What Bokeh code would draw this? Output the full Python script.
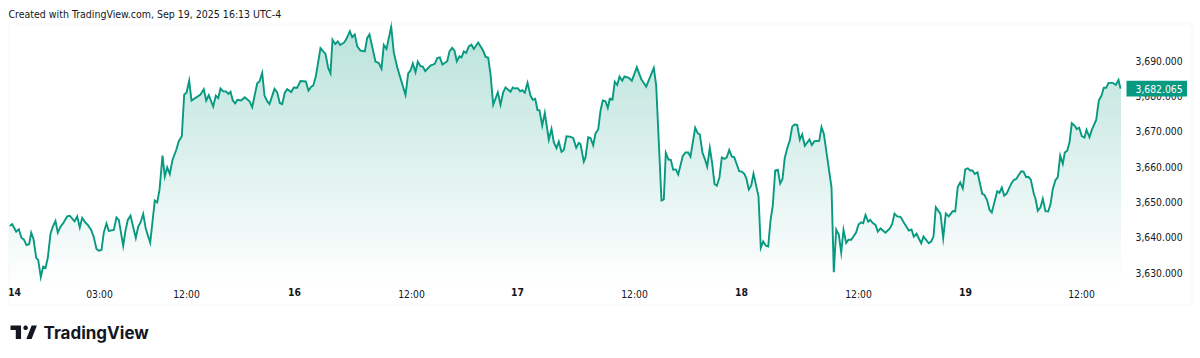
import numpy as np
from bokeh.plotting import figure
from bokeh.embed import file_html
from bokeh.resources import INLINE
from bokeh.models import (Range1d, FixedTicker, NumeralTickFormatter, LinearAxis, Label,
                          BoxAnnotation, PolyAnnotation)

# position along TradingView's session-compressed time axis, and price, one pair of lists per stretch
pos_a = [9,11.7,15.7,18.3,21,23.3,26,28.7,30.7,33,35.7,37.7,40.3,42.7,45,47.3,50,52.3,55,57.3,60,62.7,66.7,69.3,74,76.7,79.3,81.7,85,87.3,90.7,93.3,96,98.3,101,103.3,106,108.3,113.3,116,118.3,122.7,125,127.3,130,135.3,137.7,140,142.7,145.3,149.7,154.3,156.7,159,162,164.3,166.7,169.3,172]
price_a = [3643.2,3643.7,3641.6,3642.3,3639.8,3639.4,3637.8,3638.1,3641.3,3639.5,3634.2,3633.6,3628.7,3631.7,3631.3,3634.2,3641.0,3643.0,3644.6,3641.3,3643.0,3644.0,3645.9,3646.1,3644.5,3645.9,3642.8,3645.5,3644.1,3643.5,3642.1,3640.0,3636.7,3636.2,3636.4,3641.4,3643.9,3641.8,3642.1,3645.6,3644.9,3637.6,3641.9,3644.9,3646.1,3639.8,3643.0,3644.2,3646.6,3642.4,3638.5,3650.4,3649.9,3653.4,3663.1,3657.2,3659.8,3657.9,3661.9]

pos_b = [175.7,178.3,181.3,183.7,186,188.7,191,200,203.3,205.7,208.3,212.7,215.3,217.7,220,222.7,225.3,228,230,232.3,234.7,237,240.7,244.3,249,251.7,256.7,259,261.7,264,266.7,269,274,276.7,279.3,281.7,284.3,286.7,290.7,293.3,296.7]
price_b = [3664.7,3667.2,3668.6,3680.4,3680.9,3684.3,3678.7,3680.4,3681.9,3678.7,3680.2,3677.0,3680.1,3679.4,3682.1,3681.3,3681.3,3680.6,3681.2,3678.7,3677.9,3678.9,3678.7,3679.6,3678.5,3676.8,3683.6,3684.1,3686.5,3680.1,3678.5,3677.7,3682.0,3681.0,3678.0,3677.7,3680.9,3681.9,3681.1,3682.4,3682.3]

pos_c = [300,305.3,308,310.7,312.7,315.3,320,325,327.7,330,332,334.7,337.3,339.7,344,346.7,349.3,351.7,354.3,356.7,360,364.3,366.7,369,375,378.3,381,383.3,386,390.7,393.3,396.7,405,407.7,410,412.3,415,417.3,420,422.3,424.7,430,434.3,436.7,439.3,442,446.7,449,451.7,454,456.3,459,461,463.3,465.7,468.3,471,473.3,477.7,482.7,485,487.7,490,492.7,497.3,500,502.7,505,510,512.3,514.3,517.3,519.7,521.7,524.3,527,530,532.3,534.7,537,539,541.7,544.3,548.3,551,553.3,556,558.3,561,563.3,566,569.3,572.7,575.7,578.3,580,583.3,585,587.7,590,592.7,595,597.7,600]
price_c = [3684.2,3684.1,3681.5,3682.6,3682.9,3685.5,3693.5,3691.9,3687.9,3686.4,3695.9,3694.7,3695.4,3694.4,3695.2,3696.6,3698.3,3696.6,3697.4,3694.0,3692.8,3692.6,3696.4,3697.4,3689.7,3689.3,3687.7,3694.4,3693.3,3699.6,3692.3,3688.1,3680.3,3686.4,3687.2,3689.2,3686.7,3689.7,3688.4,3688.3,3687.0,3688.6,3689.1,3690.7,3690.9,3688.9,3689.8,3692.6,3693.6,3692.8,3689.8,3691.2,3690.9,3692.6,3692.2,3694.0,3694.5,3693.3,3695.1,3692.8,3691.1,3690.8,3686.2,3677.5,3681.0,3677.5,3681.0,3682.4,3681.2,3682.4,3682.1,3682.2,3681.3,3681.6,3680.9,3683.7,3680.1,3678.9,3679.2,3676.0,3675.9,3671.6,3675.2,3667.6,3670.7,3666.9,3665.2,3667.1,3664.2,3664.7,3668.6,3668.5,3668.1,3665.3,3666.7,3666.4,3661.4,3662.6,3668.3,3668.1,3666.0,3669.4,3670.5,3675.8]

pos_d = [602.3,605,607.3,609.3,612,614.3,616.7,619,621.7,624,628.3,631.3,636.3,640.7,645.7,653.3,655.7,661,663.3,665.3,668,670.3,672.7,675.3,677.7,682.3,685,687.7,690,694.7,697.3,699.3,702,704.3,706.7,709.3,711.7,714,716.3,719,721.3,724,726.3,728.7,731.3,733.7,738.7,741.3,744,746,748.3,750.7,753,758,760.3,762.7,765.3,767.7,770,772.3,774.7,777.3,779.7,782,784.3,787,789.3,791.7,794,796.7,799.3,801.7,804.3,809,811.3,814,818.7,821,823.3,831,833.3,835.7,838.3,840.7,843,845.7,848,850.7,855.7,858,860.7,862.7,865,867.7,869.7,872.3,875,877.3,880,885,889.3,891.7,894,896.7]
price_d = [3678.7,3678.5,3676.6,3679.2,3679.0,3684.0,3683.1,3685.5,3684.3,3685.5,3685.1,3684.3,3688.1,3684.8,3682.6,3687.9,3682.9,3650.4,3650.7,3663.9,3662.0,3661.9,3659.1,3659.2,3657.8,3663.0,3664.0,3664.0,3662.8,3671.0,3669.4,3669.1,3663.9,3662.2,3660.0,3665.3,3660.9,3655.1,3654.6,3657.0,3662.6,3662.2,3662.6,3664.7,3662.8,3662.7,3658.7,3658.6,3657.9,3656.5,3653.5,3654.6,3658.0,3651.6,3637.0,3638.8,3637.6,3637.4,3644.7,3649.0,3658.9,3659.1,3655.2,3656.5,3662.5,3665.5,3667.4,3671.3,3671.9,3671.8,3667.6,3669.1,3665.9,3667.7,3666.1,3667.2,3667.3,3671.2,3669.3,3654.1,3630.1,3642.2,3640.8,3635.7,3642.1,3638.4,3639.3,3639.3,3641.4,3643.6,3644.2,3644.0,3646.3,3644.4,3644.9,3644.0,3643.5,3641.6,3642.5,3641.3,3642.5,3643.8,3646.7,3645.9]

pos_e = [900,903.3,908.3,911,913.3,916,920.7,923,928.3,930.7,933,935.3,940,942.7,945.3,948.3,952.3,954.7,957.3,959.7,962.3,964.7,967.3,969.7,972,974.3,977,981.7,984,986.7,989,991.3,996.7,999,1001.3,1003.7,1006,1011,1013.3,1015.7,1020.7,1023,1025.7,1028,1030.3,1033.3,1035,1037.3,1040,1042.3,1045,1047.7,1050,1052.3,1055,1057.3,1059.7,1062.3,1064.3,1066.7,1069,1071.3,1074,1076.3,1078.7,1081.3,1084,1086,1089,1091.3,1095.7,1098.3,1101,1103.3,1105.7,1108,1112.3,1115.3,1118,1120]
price_e = [3645.8,3644.2,3641.9,3642.2,3640.2,3641.0,3638.3,3640.2,3638.3,3638.8,3640.2,3648.5,3646.6,3639.8,3646.7,3645.9,3647.4,3647.3,3654.3,3655.5,3653.8,3659.2,3659.5,3658.9,3658.9,3657.9,3658.4,3652.3,3652.0,3650.4,3647.8,3647.0,3653.0,3652.6,3654.1,3651.8,3652.3,3655.3,3656.2,3656.5,3658.7,3658.6,3657.0,3657.1,3656.3,3652.3,3650.9,3647.5,3648.5,3650.9,3647.4,3647.3,3649.4,3653.7,3656.2,3657.0,3663.1,3660.8,3664.0,3664.5,3666.9,3672.3,3671.6,3670.6,3671.0,3668.6,3668.2,3670.4,3668.3,3670.4,3673.2,3678.7,3680.1,3682.3,3682.3,3683.7,3683.7,3683.1,3684.5,3682.065]

price_ticks = [3630, 3640, 3650, 3660, 3670, 3680, 3690]
hour_ticks = [99, 186, 411, 634, 858, 1081]
hour_labels = ["03:00", "12:00", "12:00", "12:00", "12:00", "12:00"]
day_ticks = [14, 294, 517, 741, 965]
day_labels = ["14", "16", "17", "18", "19"]
last_price = 3682.065

TEAL = "#089981"
INK = "#131722"
FONT = "DejaVu Sans Condensed"

for a, b in [(pos_a, price_a), (pos_b, price_b), (pos_c, price_c), (pos_d, price_d), (pos_e, price_e)]:
    assert len(a) == len(b), (len(a), len(b))

pos = np.array(pos_a + pos_b + pos_c + pos_d + pos_e, float)
price = np.array(price_a + price_b + price_c + price_d + price_e, float)

base = 3626.9  # price where the area fade reaches white
p = figure(width=1200, height=358, output_backend="svg", toolbar_location=None,
           x_range=Range1d(0, 1200), y_range=Range1d(3605.7, 3707.0),
           x_axis_type=None, y_axis_type=None,
           min_border=0, min_border_left=0, min_border_right=0, min_border_top=0, min_border_bottom=0,
           outline_line_color=None, background_fill_color="white", border_fill_color="white")
p.grid.visible = False

# Vertical gradient under the line, painted as stacked opaque layers
grid = np.union1d(np.arange(pos[0], pos[-1], 1.0), pos)
on_grid = np.interp(grid, pos, price)
levels = np.linspace(price.max(), base, 110)
for lv in levels:
    alpha = 0.28 * (lv - base) / (price.max() - base)
    col = tuple(int(round(255 + (c - 255) * alpha)) for c in (8, 153, 129))
    p.varea(grid, base, np.minimum(on_grid, lv), fill_color="#%02x%02x%02x" % col, fill_alpha=1)

p.line(pos, price, line_color=TEAL, line_width=1.9, line_join="miter")


def style(ax, size=10.3):
    ax.axis_line_color = None
    ax.major_tick_line_color = None
    ax.minor_tick_line_color = None
    ax.major_tick_in = 0
    ax.major_tick_out = 0
    ax.minor_tick_in = 0
    ax.minor_tick_out = 0
    ax.major_label_text_font = FONT
    ax.major_label_text_font_size = f"{size}px"
    ax.major_label_text_color = INK


price_axis = LinearAxis(ticker=FixedTicker(ticks=price_ticks),
                        formatter=NumeralTickFormatter(format="0,0.000"))
style(price_axis)
price_axis.major_label_standoff = -65
p.add_layout(price_axis, "right")

hour_axis = LinearAxis(ticker=FixedTicker(ticks=hour_ticks),
                       major_label_overrides=dict(zip(hour_ticks, hour_labels)))
style(hour_axis)
hour_axis.major_label_standoff = -71
p.add_layout(hour_axis, "below")

day_axis = LinearAxis(ticker=FixedTicker(ticks=day_ticks),
                      major_label_overrides=dict(zip(day_ticks, day_labels)))
style(day_axis)
day_axis.major_label_text_font_style = "bold"
day_axis.major_label_standoff = -71
p.add_layout(day_axis, "below")

# current price tag
p.add_layout(BoxAnnotation(left=1126, left_units="canvas", right=1186.5, right_units="canvas",
                           top=last_price + 2.2, bottom=last_price - 2.2,
                           fill_color=TEAL, fill_alpha=1, line_color=None))
p.add_layout(Label(x=1135, x_units="canvas", y=last_price, y_units="data", text=f"{last_price:,.3f}",
                   text_color="white", text_font=FONT, text_font_size="10.3px",
                   text_baseline="middle", text_align="left"))

# outer pane border
p.add_layout(BoxAnnotation(left=8.5, left_units="canvas", right=1191.5, right_units="canvas",
                           top=23.5, top_units="canvas", bottom=304.5, bottom_units="canvas",
                           fill_alpha=0, line_color="#f0f3fa", line_width=2))

p.add_layout(Label(x=8, x_units="canvas", y=13, y_units="canvas",
                   text="Created with TradingView.com, Sep 19, 2025 16:13 UTC-4",
                   text_color=INK, text_font=FONT, text_font_size="10.5px",
                   text_baseline="middle", text_align="left"))

# TradingView mark
S, OX, OY = 0.755, 10.0, 320.5
def poly(xs, ys):
    p.add_layout(PolyAnnotation(xs=[OX + S * x for x in xs], ys=[OY + S * y for y in ys],
                                xs_units="canvas", ys_units="canvas",
                                fill_color=INK, fill_alpha=1, line_color=None))
poly([0, 14, 14, 7, 7, 0], [6, 6, 24, 24, 12, 12])
poly([28, 21, 28, 35], [24, 24, 6, 6])
t = np.linspace(0, 2 * np.pi, 24, endpoint=False)
poly(list(20 + 3 * np.cos(t)), list(9 + 3 * np.sin(t)))
p.add_layout(Label(x=43, x_units="canvas", y=332, y_units="canvas", text="TradingView",
                   text_color=INK, text_font="Inter", text_font_size="17px", text_font_style="bold",
                   text_baseline="middle", text_align="left"))

open("out.html", "w").write(file_html(p, INLINE))
